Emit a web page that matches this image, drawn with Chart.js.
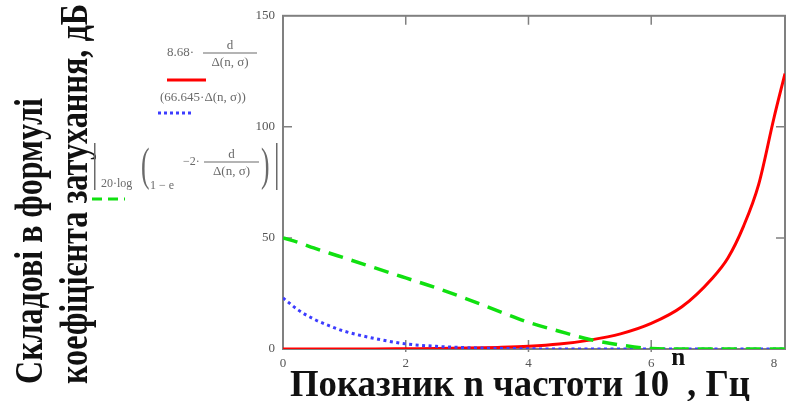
<!DOCTYPE html>
<html>
<head>
<meta charset="utf-8">
<script src="https://cdn.jsdelivr.net/npm/chart.js@4.4.1/dist/chart.umd.min.js"></script>
<style>
  html, body { margin: 0; padding: 0; background: #fff; }
  #wrap { position: relative; width: 786px; height: 401px; }
</style>
</head>
<body>
<div id="wrap"><canvas id="chart"></canvas></div>
<script>
// n values (exponent of frequency 10^n)
const nValues   = [0, 0.25, 0.5, 0.75, 1, 1.5, 2, 2.5, 3, 3.5, 4, 4.5, 5, 5.5, 6, 6.5, 7, 7.25, 7.5, 7.75, 8, 8.18];
// 8.68*d/Δ(n,σ)
const redVals   = [0, 0, 0, 0, 0, 0, 0.1, 0.2, 0.4, 0.7, 1.2, 2.2, 4, 6.8, 11.5, 19, 32, 41, 55, 74, 104, 124];
// (66.645*Δ(n,σ))
const blueVals  = [23, 17.5, 13.5, 10.5, 8, 4.7, 2.3, 1.2, 0.6, 0.3, 0.1, 0, 0, 0, 0, 0, 0, 0, 0, 0, 0, 0];
// |20 log(1 - e^(-2d/Δ(n,σ)))|
const greenVals = [50, 48, 45.5, 43.2, 41, 36.5, 32, 27.5, 22.5, 17.2, 12, 8, 4.3, 1.8, 0.2, 0, 0, 0, 0, 0, 0, 0];

const xTicks = [0, 2, 4, 6, 8];
const yTicks = [0, 50, 100, 150];

const yTitle = ['Складові в формулі', 'коефіцієнта затухання, дБ'];
const xTitle = ['Показник n частоти 10', 'n', ', Гц'];

const SERIF = '"Liberation Serif", "Times New Roman", serif';
const RED = '#ff0000', BLUE = '#3c3cff', GREEN = '#10e010';

const pts = vals => nValues.map((n, i) => ({ x: n, y: vals[i] }));

// draws text squeezed/stretched to a given width
function fitText(ctx, text, x, y, width) {
  const w = ctx.measureText(text).width;
  ctx.save();
  ctx.translate(x, y);
  ctx.scale(width / w, 1);
  ctx.fillText(text, 0, 0);
  ctx.restore();
}

function fraction(ctx, num, den, x, barY, w) {
  ctx.textAlign = 'center';
  ctx.fillText(num, x + w / 2, barY - 4);
  ctx.fillText(den, x + w / 2, barY + 13);
  ctx.fillRect(x, barY - 0.5, w, 1);
  ctx.textAlign = 'left';
}

// tall thin bracket like mathcad
function bigParen(ctx, ch, x, y) {
  ctx.save();
  ctx.font = '34px ' + SERIF;
  ctx.translate(x, y);
  ctx.scale(0.75, 1.35);
  ctx.fillText(ch, 0, 0);
  ctx.restore();
}

function sample(ctx, x1, x2, y, color, dash, width) {
  ctx.save();
  ctx.strokeStyle = color;
  ctx.lineWidth = width;
  ctx.setLineDash(dash);
  ctx.beginPath();
  ctx.moveTo(x1, y); ctx.lineTo(x2, y);
  ctx.stroke();
  ctx.restore();
}

// Mathcad style frame with inner tick marks
const framePlugin = {
  id: 'frame',
  beforeDatasetsDraw(chart) {
    const { ctx, chartArea: a, scales: { x, y } } = chart;
    ctx.save();
    ctx.strokeStyle = '#808080';
    ctx.lineWidth = 2;
    ctx.strokeRect(a.left, a.top, a.right - a.left, a.bottom - a.top);
    ctx.lineWidth = 1.5;
    ctx.beginPath();
    xTicks.slice(1, -1).forEach(v => {
      const px = x.getPixelForValue(v);
      ctx.moveTo(px, a.top); ctx.lineTo(px, a.top + 9);
      ctx.moveTo(px, a.bottom + 3); ctx.lineTo(px, a.bottom - 9);
    });
    yTicks.slice(1, -1).forEach(v => {
      const py = y.getPixelForValue(v);
      ctx.moveTo(a.left, py); ctx.lineTo(a.left + 9, py);
      ctx.moveTo(a.right, py); ctx.lineTo(a.right - 9, py);
    });
    ctx.stroke();
    ctx.restore();
  },
  afterDraw(chart) {
    const ctx = chart.ctx;
    ctx.save();

    // y axis title (two rotated lines)
    ctx.fillStyle = '#111';
    ctx.font = 'bold 40px ' + SERIF;
    ctx.textAlign = 'left';
    ctx.textBaseline = 'alphabetic';
    [[42, 286], [87, 380]].forEach(([bx, len], i) => {
      ctx.save();
      ctx.translate(bx, 384);
      ctx.rotate(-Math.PI / 2);
      fitText(ctx, yTitle[i], 0, 0, len);
      ctx.restore();
    });

    // x axis title with superscript n
    const mainFont = 'bold 38px ' + SERIF, supFont = 'bold 26px ' + SERIF;
    ctx.font = mainFont;
    const w0 = ctx.measureText(xTitle[0]).width;
    const w2 = ctx.measureText(xTitle[2]).width;
    ctx.font = supFont;
    const w1 = ctx.measureText(xTitle[1]).width + 4;
    const s = 460 / (w0 + w1 + w2);
    ctx.save();
    ctx.translate(290, 396);
    ctx.scale(s, 1);
    ctx.font = mainFont;
    ctx.fillText(xTitle[0], 0, 0);
    ctx.font = supFont;
    ctx.fillText(xTitle[1], w0 + 2, -31);
    ctx.font = mainFont;
    ctx.fillText(xTitle[2], w0 + w1, 0);
    ctx.restore();

    // legend formulas
    ctx.fillStyle = '#6a6a6a';
    ctx.font = '13px ' + SERIF;
    ctx.textBaseline = 'alphabetic';
    ctx.fillText('8.68·', 167, 56);
    fraction(ctx, 'd', 'Δ(n, σ)', 203, 53, 54);
    sample(ctx, 167, 206, 80, RED, [], 3);

    ctx.fillText('(66.645·Δ(n, σ))', 160, 101);
    sample(ctx, 158, 193, 113, BLUE, [3, 3], 3);

    ctx.fillRect(94, 143, 1.5, 47);
    ctx.font = '12px ' + SERIF;
    ctx.fillText('20·log', 101, 187);
    bigParen(ctx, '(', 141, 180);
    ctx.fillText('1 − e', 150, 189);
    ctx.fillText('−2·', 183, 165);
    ctx.font = '13px ' + SERIF;
    fraction(ctx, 'd', 'Δ(n, σ)', 204, 162, 55);
    bigParen(ctx, ')', 261, 180);
    ctx.fillRect(276, 143, 1.5, 47);
    sample(ctx, 92, 125, 199, GREEN, [10, 6], 3);

    ctx.restore();
  }
};

new Chart(document.getElementById('chart'), {
  type: 'line',
  data: {
    datasets: [
      { data: pts(greenVals), borderColor: GREEN, borderWidth: 3.5, borderDash: [15, 9] },
      { data: pts(blueVals), borderColor: BLUE, borderWidth: 3, borderDash: [3, 3.5] },
      { data: pts(redVals), borderColor: RED, borderWidth: 3 }
    ]
  },
  options: {
    responsive: true,
    maintainAspectRatio: false,
    animation: false,
    layout: { autoPadding: false, padding: { top: 12, right: 1, left: 0, bottom: 0 } },
    elements: {
      point: { radius: 0 },
      line: { tension: 0.3, cubicInterpolationMode: 'monotone', fill: false }
    },
    plugins: { legend: { display: false }, tooltip: { enabled: false } },
    scales: {
      x: {
        type: 'linear', min: 0, max: 8.18,
        grid: { display: false, drawTicks: false },
        border: { display: false },
        afterBuildTicks: sc => { sc.ticks = xTicks.map(v => ({ value: v })); },
        afterFit: sc => { sc.height = 52; },
        ticks: { padding: 7, color: '#555', font: { family: SERIF, size: 13 }, maxRotation: 0 }
      },
      y: {
        min: 0, max: 150,
        grid: { display: false, drawTicks: false },
        border: { display: false },
        afterBuildTicks: sc => { sc.ticks = yTicks.map(v => ({ value: v })); },
        afterFit: sc => { sc.width = 283; },
        ticks: { padding: 8, color: '#555', font: { family: SERIF, size: 13 } }
      }
    }
  },
  plugins: [framePlugin]
});
</script>
</body>
</html>
